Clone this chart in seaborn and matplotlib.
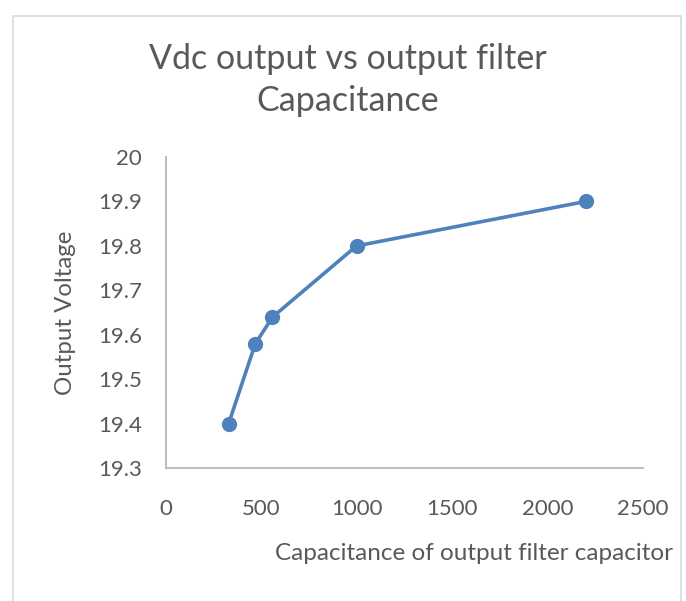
import matplotlib
matplotlib.use("Agg")
import matplotlib.pyplot as plt
import seaborn as sns
import pandas as pd
from matplotlib.patches import Rectangle

# data
capacitance = [330, 470, 560, 1000, 2200]
output_voltage = [19.40, 19.58, 19.64, 19.80, 19.90]
x_ticks = [0, 500, 1000, 1500, 2000, 2500]
y_ticks = [19.3, 19.4, 19.5, 19.6, 19.7, 19.8, 19.9, 20.0]
y_tick_labels = ["19.3", "19.4", "19.5", "19.6", "19.7", "19.8", "19.9", "20"]

sns.set_style("white")
plt.rcParams["font.family"] = ["Lato", "DejaVu Sans"]

text_col = "#595959"
axis_col = "#BFBFBF"
line_col = "#4F81BD"

df = pd.DataFrame({"C": capacitance, "V": output_voltage})

fig = plt.figure(figsize=(6.86, 6.01), dpi=100)
ax = fig.add_axes([0.2413, 0.2208, 0.6960, 0.5180])

sns.lineplot(data=df, x="C", y="V", ax=ax, color=line_col, linewidth=2.6,
             marker="o", markersize=11, markeredgewidth=0, sort=False)

ax.set_xlim(0, 2500)
ax.set_ylim(19.3, 20.0)
ax.set_xticks(x_ticks)
ax.set_xticklabels([str(t) for t in x_ticks])
ax.set_yticks(y_ticks)
ax.set_yticklabels(y_tick_labels)
ax.tick_params(axis="both", length=0, labelsize=16, colors=text_col)
ax.tick_params(axis="x", pad=22)
ax.tick_params(axis="y", pad=17)

for side in ["top", "right"]:
    ax.spines[side].set_visible(False)
for side in ["left", "bottom"]:
    ax.spines[side].set_color(axis_col)
    ax.spines[side].set_linewidth(1.5)

ax.set_xlabel("")
ax.set_ylabel("")
fig.text(474 / 686, 1 - 553 / 601, "Capacitance of output filter capacitor",
         ha="center", va="center", fontsize=17.5, color=text_col)
fig.text(65 / 686, 1 - 313 / 601, "Output Voltage", rotation=90,
         ha="center", va="center", fontsize=17.3, color=text_col)
fig.text(348 / 686, 1 - 80 / 601, "Vdc output vs output filter\nCapacitance",
         ha="center", va="center", fontsize=24.5, color=text_col, linespacing=1.35)

# chart frame
fig.patches.append(Rectangle((13 / 686, -0.05), (681 - 13) / 686, 1 - 16 / 601 + 0.05,
                             transform=fig.transFigure, fill=False,
                             edgecolor="#D9D9D9", linewidth=1.2))

fig.savefig("out.png", dpi=100)
